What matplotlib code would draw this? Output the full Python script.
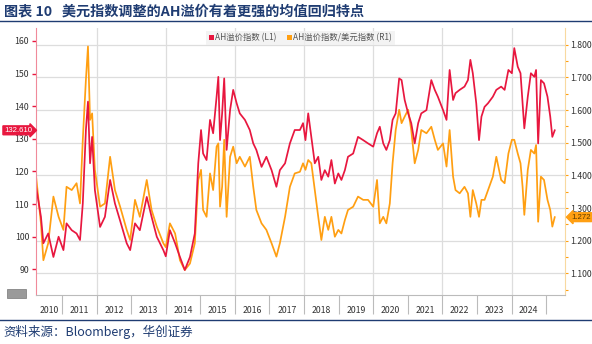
import matplotlib
matplotlib.use("Agg")
import matplotlib.pyplot as plt
from matplotlib.patches import Patch, Rectangle
from matplotlib.lines import Line2D

plt.rcParams['font.family'] = ['Noto Sans CJK SC', 'DejaVu Sans']

# decimal years
t = [2010.25, 2010.39, 2010.46, 2010.60, 2010.75, 2010.90, 2011.04, 2011.13, 2011.28, 2011.42,
     2011.52, 2011.60, 2011.69, 2011.75, 2011.81, 2011.87, 2011.95, 2012.10, 2012.24, 2012.39,
     2012.53, 2012.68, 2012.87, 2012.97, 2013.11, 2013.25, 2013.45, 2013.59, 2013.74, 2013.93,
     2014.00, 2014.12, 2014.27, 2014.41, 2014.55, 2014.70, 2014.84, 2014.94, 2015.02, 2015.08,
     2015.18, 2015.28, 2015.37, 2015.47, 2015.52, 2015.57, 2015.63, 2015.69, 2015.76, 2015.86,
     2015.95, 2016.05, 2016.14, 2016.29, 2016.43, 2016.53, 2016.62, 2016.77, 2016.91, 2017.06,
     2017.20, 2017.30, 2017.45, 2017.59, 2017.73, 2017.88, 2017.97, 2018.04, 2018.12, 2018.21,
     2018.31, 2018.41, 2018.50, 2018.60, 2018.70, 2018.79, 2018.89, 2018.99, 2019.08, 2019.18,
     2019.27, 2019.42, 2019.56, 2019.71, 2019.85, 2020.00, 2020.11, 2020.19, 2020.29, 2020.38,
     2020.48, 2020.56, 2020.65, 2020.75, 2020.82, 2020.91, 2021.01, 2021.10, 2021.20, 2021.30,
     2021.39, 2021.54, 2021.68, 2021.78, 2021.87, 2022.02, 2022.12, 2022.21, 2022.31, 2022.38,
     2022.50, 2022.64, 2022.74, 2022.81, 2022.88, 2022.98, 2023.06, 2023.13, 2023.22, 2023.32,
     2023.46, 2023.56, 2023.70, 2023.80, 2023.91, 2024.01, 2024.08, 2024.18, 2024.26, 2024.32,
     2024.37, 2024.47, 2024.56, 2024.66, 2024.71, 2024.77, 2024.85, 2024.94, 2025.04, 2025.12,
     2025.18, 2025.25]

# AH溢价指数 (L1)
ah = [115.3, 106.1, 98.0, 101.0, 93.8, 100.0, 95.9, 104.1, 102.0, 101.0,
      99.0, 110.2, 132.7, 141.4, 122.5, 130.6, 114.3, 103.0, 106.1, 117.4,
      110.2, 104.9, 98.0, 95.9, 104.1, 102.0, 112.2, 106.1, 100.0, 95.9,
      94.0, 102.0, 98.0, 93.8, 89.8, 93.8, 101.0, 122.5, 132.7, 125.5,
      123.5, 135.8, 131.7, 142.9, 149.0, 129.6, 137.8, 148.5, 126.6, 138.8,
      145.0, 140.9, 137.8, 135.8, 132.7, 128.6, 126.6, 121.4, 124.5, 120.4,
      115.3, 120.4, 122.5, 128.6, 132.7, 132.7, 134.8, 129.6, 137.8, 130.6,
      122.5, 124.5, 117.4, 120.4, 118.4, 123.5, 116.3, 119.4, 117.4, 120.4,
      124.5, 125.5, 130.6, 129.6, 128.6, 127.6, 131.7, 133.7, 128.6, 126.6,
      129.6, 135.8, 137.8, 148.5, 148.0, 141.9, 137.8, 134.8, 128.6, 134.8,
      137.8, 138.8, 148.0, 145.0, 142.9, 138.8, 135.8, 151.1, 141.9, 144.0,
      145.0, 146.0, 148.0, 154.2, 150.1, 140.9, 129.6, 136.8, 139.8, 140.9,
      142.9, 145.0, 146.0, 145.0, 151.1, 150.1, 157.8, 152.1, 150.1, 140.9,
      133.2, 142.9, 150.1, 149.0, 151.1, 128.6, 148.0, 147.0, 142.9, 136.8,
      130.6, 132.61]

# AH溢价指数/美元指数 (R1)
ah_usd = [1.396, 1.253, 1.140, 1.192, 1.335, 1.273, 1.233, 1.365, 1.355, 1.376,
          1.314, 1.509, 1.693, 1.795, 1.570, 1.590, 1.417, 1.304, 1.314, 1.457,
          1.355, 1.304, 1.233, 1.202, 1.325, 1.273, 1.386, 1.294, 1.243, 1.192,
          1.180, 1.253, 1.222, 1.140, 1.110, 1.130, 1.192, 1.386, 1.417, 1.294,
          1.273, 1.406, 1.355, 1.488, 1.498, 1.304, 1.365, 1.509, 1.273, 1.457,
          1.488, 1.437, 1.457, 1.427, 1.457, 1.365, 1.294, 1.253, 1.233, 1.192,
          1.151, 1.192, 1.273, 1.365, 1.406, 1.411, 1.437, 1.417, 1.447, 1.437,
          1.355, 1.273, 1.202, 1.273, 1.233, 1.273, 1.212, 1.233, 1.222, 1.263,
          1.294, 1.304, 1.335, 1.325, 1.325, 1.304, 1.386, 1.253, 1.273, 1.253,
          1.314, 1.437, 1.539, 1.601, 1.560, 1.580, 1.601, 1.539, 1.437, 1.478,
          1.539, 1.529, 1.549, 1.509, 1.478, 1.498, 1.427, 1.539, 1.396, 1.355,
          1.345, 1.365, 1.345, 1.273, 1.355, 1.314, 1.273, 1.325, 1.325, 1.355,
          1.396, 1.457, 1.386, 1.376, 1.467, 1.509, 1.509, 1.467, 1.437, 1.365,
          1.279, 1.417, 1.478, 1.467, 1.493, 1.258, 1.396, 1.386, 1.325, 1.294,
          1.243, 1.272]

years = list(range(2010, 2025))
left_ticks = [90, 100, 110, 120, 130, 140, 150, 160]
right_ticks = [1.1, 1.2, 1.3, 1.4, 1.5, 1.6, 1.7, 1.8]

red = '#E8173F'
orange = '#FF9F12'
navy = '#1F3C72'

fig = plt.figure(figsize=(5.92, 3.44), dpi=100)
ax = fig.add_axes([0.061, 0.142, 0.893, 0.777])
ax2 = ax.twinx()

ax2.plot(t, ah_usd, color=orange, lw=1.25)
ax.plot(t, ah, color=red, lw=1.25)
# red line drawn above the orange one
ax.set_zorder(ax2.get_zorder() + 1)
ax.patch.set_visible(False)

x0, x1 = 2010.25, 2025.54
ax.set_xlim(x0, x1)
ax.set_ylim(82.1, 164.0)
ax2.set_ylim(1.033, 1.852)

# x axis: separators at year boundaries, labels centred in each year
ax.set_xticks(list(range(2011, 2026)))
ax.set_xticklabels([])
ax.tick_params(axis='x', which='major', length=14, color='#BBBBBB', width=0.8)
centres = [(max(y, x0) + y + 1) / 2 for y in years]
ax.set_xticks(centres, minor=True)
ax.set_xticklabels([str(y) for y in years], minor=True)
ax.tick_params(axis='x', which='minor', length=0, pad=8, labelsize=6.3, labelcolor='#333333')

ax.set_yticks(left_ticks)
ax.tick_params(axis='y', length=3, color=red, width=1, labelsize=6.3, labelcolor='#333333', pad=2)
ax2.set_yticks(right_ticks)
ax2.set_yticklabels(['%.3f' % v for v in right_ticks])
ax2.set_yticks([v + 0.05 for v in right_ticks[:-1]] + [1.05], minor=True)
ax2.tick_params(axis='y', which='both', length=2, color=orange, width=0.8, labelsize=6.3,
                labelcolor='#333333', pad=2)

# grid: horizontal at right ticks, vertical on even years
for v in right_ticks:
    ax2.axhline(v, color='#DDDDDD', lw=0.9, zorder=0)
for y in range(2012, 2026, 2):
    ax2.axvline(y, color='#DDDDDD', lw=0.9, zorder=0)

for a in (ax, ax2):
    a.spines['top'].set_visible(False)
ax.spines['left'].set_color('#F08A9A')
ax.spines['bottom'].set_color('#BBBBBB')
ax2.spines['left'].set_visible(False)
ax2.spines['bottom'].set_visible(False)
ax2.spines['right'].set_color('#F8D9A0')
ax.spines['right'].set_visible(False)

# last value tags
ax.annotate('%.3f' % ah[-1], xy=(-0.008, ah[-1]), xycoords=('axes fraction', 'data'),
            ha='right', va='center', fontsize=5.6, color='white', family='Liberation Sans',
            bbox=dict(boxstyle='rarrow,pad=0.12', fc=red, ec=red), annotation_clip=False)
ax2.annotate('%.3f' % ah_usd[-1], xy=(1.012, ah_usd[-1]), xycoords=('axes fraction', 'data'),
             ha='left', va='center', fontsize=5.6, color='#5A3A00', family='Liberation Sans',
             bbox=dict(boxstyle='larrow,pad=0.12', fc=orange, ec=orange), annotation_clip=False)

handles = [Patch(fc=red, ec='none'), Patch(fc=orange, ec='none')]
leg = ax.legend(handles, ['AH溢价指数 (L1)', 'AH溢价指数/美元指数 (R1)'], loc='upper center',
                bbox_to_anchor=(0.5, 1.005), ncol=2, fontsize=6, frameon=True,
                handlelength=0.6, handleheight=0.6, handletextpad=0.2, columnspacing=1.2,
                borderpad=0.3, fancybox=False)
leg.get_frame().set_facecolor('#F0F0F0')
leg.get_frame().set_edgecolor('none')
for txt in leg.get_texts():
    txt.set_color('#555555')

# title, rules and source
fig.text(0.006, 0.967, '图表 10   美元指数调整的AH溢价有着更强的均值回归特点', fontsize=10.2,
         fontweight='bold', color=navy, va='center', ha='left')
fig.add_artist(Line2D([0, 1], [0.940, 0.940], color=navy, lw=1.0))
fig.add_artist(Line2D([0, 1], [0.070, 0.070], color=navy, lw=1.0))
fig.text(0.006, 0.035, '资料来源：Bloomberg，华创证券', fontsize=9, style='italic',
         color=navy, va='center', ha='left')
fig.add_artist(Rectangle((0.012, 0.135), 0.032, 0.025, transform=fig.transFigure,
                         fc='#9A9A9A', ec='#777777', lw=0.5))

fig.savefig('out.png', dpi=100)
